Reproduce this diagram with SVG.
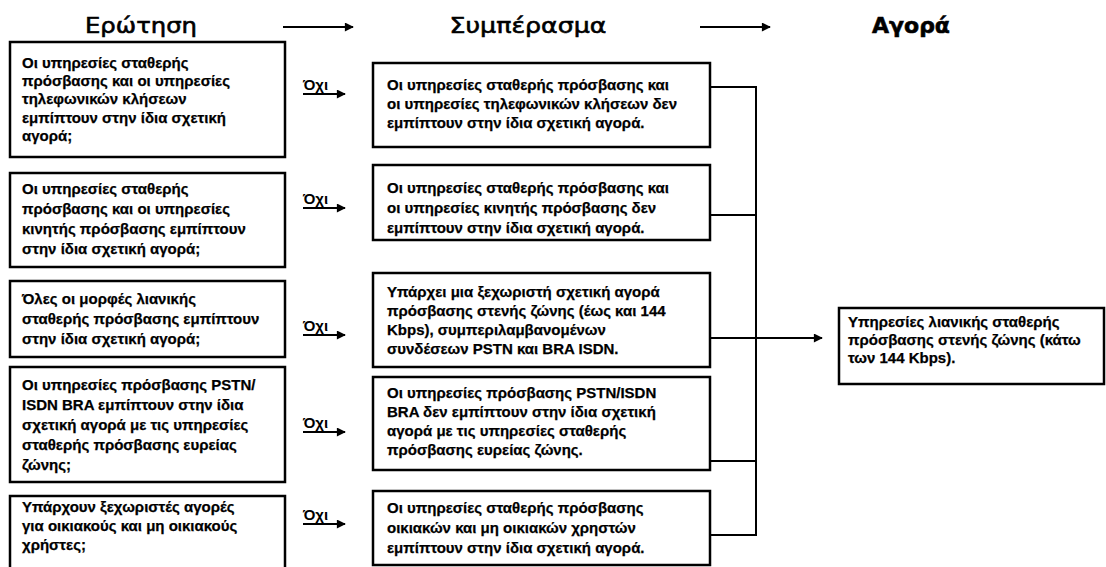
<svg xmlns="http://www.w3.org/2000/svg" width="1106" height="567" viewBox="0 0 1106 567">
<defs>
<marker id="ah" viewBox="0 0 10 10" refX="9" refY="5" markerWidth="5" markerHeight="4.5" orient="auto" markerUnits="strokeWidth">
<path d="M0,0 L10,5 L0,10 z" fill="#000"/>
</marker>
<style>
.box{fill:#fff;stroke:#000;stroke-width:2.5}
.t{font-family:"Liberation Sans",Arial,sans-serif;font-weight:bold;font-size:15px;fill:#000;stroke:#000;stroke-width:0.25}
.h{font-family:"DejaVu Sans","Liberation Sans",sans-serif;font-size:22px;fill:#000;stroke:#000;stroke-width:0.6;text-anchor:middle}
.no{font-family:"Liberation Sans",Arial,sans-serif;font-weight:bold;font-size:15px;fill:#000}
.ln{fill:none;stroke:#000;stroke-width:2}
.ar{fill:none;stroke:#000;stroke-width:2;marker-end:url(#ah)}
</style>
</defs>
<rect width="1106" height="567" fill="#fff"/>

<g id="headers">
<text class="h" x="141" y="33" textLength="112" lengthAdjust="spacingAndGlyphs">Ερώτηση</text>
<text class="h" x="528" y="33" textLength="157" lengthAdjust="spacingAndGlyphs">Συμπέρασμα</text>
<text class="h" x="911" y="33" font-weight="bold" stroke-width="0">Αγορά</text>
<line class="ar" x1="283" y1="27" x2="353" y2="27"/>
<line class="ar" x1="700" y1="27" x2="770" y2="27"/>
</g>

<g id="q1">
<rect class="box" x="10" y="42" width="275" height="115"/>
<text class="t"><tspan x="22" y="68">Οι υπηρεσίες σταθερής</tspan><tspan x="22" y="86">πρόσβασης και οι υπηρεσίες</tspan><tspan x="22" y="104">τηλεφωνικών κλήσεων</tspan><tspan x="22" y="123">εμπίπτουν στην ίδια σχετική</tspan><tspan x="22" y="141">αγορά;</tspan></text>
</g>
<g id="q2">
<rect class="box" x="10" y="173" width="275" height="94"/>
<text class="t"><tspan x="22" y="194">Οι υπηρεσίες σταθερής</tspan><tspan x="22" y="214">πρόσβασης και οι υπηρεσίες</tspan><tspan x="22" y="234">κινητής πρόσβασης εμπίπτουν</tspan><tspan x="22" y="254">στην ίδια σχετική αγορά;</tspan></text>
</g>
<g id="q3">
<rect class="box" x="10" y="281" width="275" height="76"/>
<text class="t"><tspan x="22" y="304">Όλες οι μορφές λιανικής</tspan><tspan x="22" y="324">σταθερής πρόσβασης εμπίπτουν</tspan><tspan x="22" y="344">στην ίδια σχετική αγορά;</tspan></text>
</g>
<g id="q4">
<rect class="box" x="10" y="367" width="275" height="115"/>
<text class="t"><tspan x="22" y="390">Οι υπηρεσίες πρόσβασης PSTN/</tspan><tspan x="22" y="410">ISDN BRA εμπίπτουν στην ίδια</tspan><tspan x="22" y="430">σχετική αγορά με τις υπηρεσίες</tspan><tspan x="22" y="450">σταθερής πρόσβασης ευρείας</tspan><tspan x="22" y="470">ζώνης;</tspan></text>
</g>
<g id="q5">
<rect class="box" x="10" y="496" width="275" height="80"/>
<text class="t"><tspan x="22" y="512">Υπάρχουν ξεχωριστές αγορές</tspan><tspan x="22" y="531">για οικιακούς και μη οικιακούς</tspan><tspan x="22" y="550">χρήστες;</tspan></text>
</g>

<g id="no-labels">
<text class="no" x="303" y="90">Όχι</text>
<text class="no" x="303" y="204">Όχι</text>
<text class="no" x="303" y="331">Όχι</text>
<text class="no" x="303" y="428">Όχι</text>
<text class="no" x="303" y="520">Όχι</text>
</g>

<g id="c1">
<rect class="box" x="373" y="63" width="337" height="84"/>
<text class="t"><tspan x="387" y="90">Οι υπηρεσίες σταθερής πρόσβασης και</tspan><tspan x="387" y="109">οι υπηρεσίες τηλεφωνικών κλήσεων δεν</tspan><tspan x="387" y="128">εμπίπτουν στην ίδια σχετική αγορά.</tspan></text>
</g>
<g id="c2">
<rect class="box" x="373" y="165" width="337" height="75"/>
<text class="t"><tspan x="387" y="193">Οι υπηρεσίες σταθερής πρόσβασης και</tspan><tspan x="387" y="213">οι υπηρεσίες κινητής πρόσβασης δεν</tspan><tspan x="387" y="233">εμπίπτουν στην ίδια σχετική αγορά.</tspan></text>
</g>
<g id="c3">
<rect class="box" x="373" y="273" width="337" height="94"/>
<text class="t"><tspan x="387" y="297">Υπάρχει μια ξεχωριστή σχετική αγορά</tspan><tspan x="387" y="316">πρόσβασης στενής ζώνης (έως και 144</tspan><tspan x="387" y="335">Kbps), συμπεριλαμβανομένων</tspan><tspan x="387" y="354">συνδέσεων PSTN και BRA ISDN.</tspan></text>
</g>
<g id="c4">
<rect class="box" x="373" y="377" width="337" height="93"/>
<text class="t"><tspan x="387" y="398">Οι υπηρεσίες πρόσβασης PSTN/ISDN</tspan><tspan x="387" y="417">BRA δεν εμπίπτουν στην ίδια σχετική</tspan><tspan x="387" y="436">αγορά με τις υπηρεσίες σταθερής</tspan><tspan x="387" y="455">πρόσβασης ευρείας ζώνης.</tspan></text>
</g>
<g id="c5">
<rect class="box" x="373" y="491" width="337" height="74"/>
<text class="t"><tspan x="387" y="513">Οι υπηρεσίες σταθερής πρόσβασης</tspan><tspan x="387" y="533">οικιακών και μη οικιακών χρηστών</tspan><tspan x="387" y="553">εμπίπτουν στην ίδια σχετική αγορά.</tspan></text>
</g>

<g id="market">
<rect class="box" x="839" y="308" width="265" height="76"/>
<text class="t"><tspan x="848" y="327">Υπηρεσίες λιανικής σταθερής</tspan><tspan x="848" y="345">πρόσβασης στενής ζώνης (κάτω</tspan><tspan x="848" y="363">των 144 Kbps).</tspan></text>
</g>

<g id="connectors">
<line class="ar" x1="303" y1="94" x2="345" y2="94"/>
<line class="ar" x1="303" y1="208" x2="345" y2="208"/>
<line class="ar" x1="303" y1="335" x2="345" y2="335"/>
<line class="ar" x1="303" y1="432" x2="345" y2="432"/>
<line class="ar" x1="303" y1="524" x2="345" y2="524"/>
<line class="ln" x1="710" y1="87" x2="756" y2="87"/>
<line class="ln" x1="710" y1="215" x2="756" y2="215"/>
<line class="ln" x1="710" y1="461" x2="756" y2="461"/>
<line class="ln" x1="710" y1="535" x2="756" y2="535"/>
<line class="ln" x1="756" y1="86" x2="756" y2="536"/>
<line class="ar" x1="710" y1="338" x2="822" y2="338"/>
</g>
</svg>
